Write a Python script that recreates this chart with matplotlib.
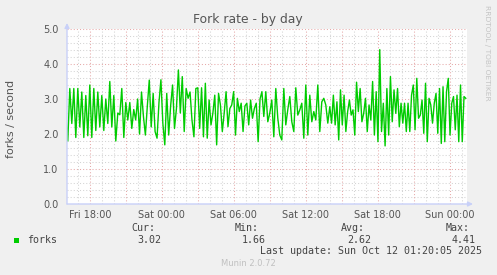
import matplotlib
matplotlib.use("Agg")
import matplotlib.pyplot as plt
import numpy as np
from matplotlib.patches import Rectangle

# ---- data (hours counted from Fri 00:00) ----
title = "Fork rate - by day"
ylabel = "forks / second"
xtick_hours = [18, 24, 30, 36, 42, 48]
xtick_labels = ["Fri 18:00", "Sat 00:00", "Sat 06:00", "Sat 12:00", "Sat 18:00", "Sun 00:00"]
ytick_values = [0.0, 1.0, 2.0, 3.0, 4.0, 5.0]

segment_bounds = [16.0, 21.5, 27.0, 32.5, 38.0, 43.5, 49.33]
seg1 = [2.6, 1.8, 3.3, 2.3, 3.3, 1.9, 3.3, 2.2, 3.2, 1.9, 3.1, 1.95, 3.4, 1.9, 3.3, 2.1, 3.2,
        2.2, 3.1, 2.1, 3.0, 2.3, 3.5, 2.2, 3.1, 1.8, 2.6, 2.55, 3.3, 1.9, 2.9, 2.4, 2.9]
seg2 = [2.16, 2.7, 2.4, 3.0, 2.0, 3.2, 2.5, 1.97, 2.8, 3.54, 2.2, 3.16, 2.07, 1.88, 2.9, 3.55,
        2.3, 1.69, 3.16, 1.97, 2.8, 3.4, 2.16, 2.73, 3.83, 2.6, 3.64, 2.07, 3.3, 3.02, 3.2, 2.4,
        1.92, 3.3]
seg3 = [3.32, 2.16, 3.32, 1.92, 3.45, 1.88, 2.97, 2.26, 2.6, 3.11, 1.69, 3.16, 2.83, 2.07, 2.6,
        3.21, 2.21, 2.73, 2.83, 3.21, 1.97, 3.02, 2.64, 2.88, 2.07, 2.8, 2.88, 2.26, 2.97, 2.45,
        2.73, 2.88, 1.78, 3.0, 3.21]
seg4 = [2.5, 3.21, 2.35, 2.6, 2.97, 1.92, 3.3, 2.45, 1.97, 1.83, 3.3, 2.26, 2.7, 3.07, 2.35,
        2.07, 3.32, 2.54, 2.69, 2.88, 1.88, 3.40, 1.97, 3.11, 2.35, 2.64, 2.4, 3.40, 2.07, 2.92,
        3.02, 2.83, 2.31]
seg5 = [2.78, 2.31, 3.11, 2.26, 2.92, 1.83, 3.26, 2.26, 3.11, 2.07, 2.64, 2.97, 2.54, 2.69,
        1.97, 3.48, 2.64, 3.30, 2.35, 2.59, 3.02, 2.07, 2.83, 2.4, 3.5, 1.97, 3.21, 1.78, 4.41,
        2.07, 2.88, 1.66, 3.30, 1.97, 3.64, 2.35, 3.26]
seg6 = [2.59, 3.30, 2.21, 2.88, 2.31, 2.88, 2.07, 2.88, 2.07, 3.11, 3.40, 2.12, 3.59, 2.45,
        2.54, 2.97, 2.02, 3.45, 1.78, 3.02, 2.83, 2.31, 2.88, 3.16, 2.02, 3.30, 1.73, 3.35, 1.78,
        3.21, 3.59, 1.97, 2.88, 3.07, 2.12, 3.11, 1.78, 3.40, 1.78, 3.07, 3.02]
segments = [seg1, seg2, seg3, seg4, seg5, seg6]

legend_name = "forks"
stat_labels = ["Cur:", "Min:", "Avg:", "Max:"]
stat_values = ["3.02", "1.66", "2.62", "4.41"]
last_update = "Last update: Sun Oct 12 01:20:05 2025"
footer = "Munin 2.0.72"
watermark = "RRDTOOL / TOBI OETIKER"

# build time axis per segment
times, values = [], []
for i, seg in enumerate(segments):
    last = i == len(segments) - 1
    t = np.linspace(segment_bounds[i], segment_bounds[i + 1], len(seg), endpoint=last)
    times.extend(t)
    values.extend(seg)
times = np.array(times)
values = np.array(values)

W, H = 497, 275
fig = plt.figure(figsize=(W / 100, H / 100), dpi=100, facecolor="#F0F0F0")
ax = fig.add_axes([67 / W, (H - 204) / H, 400 / W, 175 / H])
ax.set_facecolor("white")

xmin, xmax = 16.1, 16.1 + 400 / 12
ax.set_xlim(xmin, xmax)
ax.set_ylim(0, 5)

for s in ax.spines.values():
    s.set_visible(False)

# grid
minor_x = np.arange(17, 50, 1)
minor_y = np.arange(0, 5.01, 0.2)
major_x = np.arange(18, 50, 3)
dot = (0, (1, 2))
for x in minor_x:
    if x % 3 != 0:
        ax.axvline(x, color="#d4d4d4", lw=0.75, ls=dot, zorder=1)
for y in minor_y:
    if abs(y - round(y)) > 1e-6:
        ax.axhline(y, color="#d4d4d4", lw=0.75, ls=dot, zorder=1)
for x in major_x:
    ax.axvline(x, color="#e6aaaa", lw=0.75, ls=dot, zorder=1.5)
for y in ytick_values[1:]:
    ax.axhline(y, color="#e6aaaa", lw=0.75, ls=dot, zorder=1.5)

ax.plot(times, values, color="#00CC00", lw=1.0, zorder=3)

ax.set_xticks(xtick_hours)
ax.set_xticklabels(xtick_labels)
ax.set_yticks(ytick_values)
ax.set_yticklabels([f"{v:.1f}" for v in ytick_values])
ax.tick_params(axis="both", length=0, labelsize=7, colors="#555555")
ax.tick_params(axis="x", pad=4)
ax.tick_params(axis="y", pad=6)

# axis lines with arrows
acol = "#C8D0F8"
ax.annotate("", xy=(1 + 6 / 400, 0), xytext=(0, 0), xycoords="axes fraction",
            arrowprops=dict(arrowstyle="-|>", color=acol, lw=1, mutation_scale=7,
                            shrinkA=0, shrinkB=0), annotation_clip=False, zorder=4)
ax.annotate("", xy=(0, 1 + 6 / 175), xytext=(0, 0), xycoords="axes fraction",
            arrowprops=dict(arrowstyle="-|>", color=acol, lw=1, mutation_scale=7,
                            shrinkA=0, shrinkB=0), annotation_clip=False, zorder=4)

def fx(px):
    return px / W

def fy(py):
    return 1 - py / H

fig.text(fx(248), fy(19), title, ha="center", va="center", fontsize=8.9, color="#555555")
fig.text(fx(11), fy(119), ylabel, ha="center", va="center", rotation=90, fontsize=8,
         color="#555555")
fig.text(fx(487), fy(5), watermark, ha="center", va="top", rotation=270, fontsize=5.4,
         color="#c4c4c4")

mono = dict(family="DejaVu Sans Mono", fontsize=7.2, color="#444444")
fig.patches.append(Rectangle((fx(14), fy(243)), 5 / W, 5 / H, transform=fig.transFigure,
                             facecolor="#00CC00", edgecolor="none"))
fig.text(fx(27), fy(240), legend_name, ha="left", va="center", **mono)
label_x = [155, 259, 365, 470]
value_x = [161, 266, 371, 476]
for lx, vx, lab, val in zip(label_x, value_x, stat_labels, stat_values):
    fig.text(fx(lx), fy(228), lab, ha="right", va="center", **mono)
    fig.text(fx(vx), fy(240), val, ha="right", va="center", **mono)
fig.text(fx(482), fy(251), last_update, ha="right", va="center", **mono)
fig.text(fx(248), fy(264), footer, ha="center", va="center", fontsize=6, color="#c0c0c0")

fig.savefig("out.png", dpi=100, facecolor=fig.get_facecolor())
